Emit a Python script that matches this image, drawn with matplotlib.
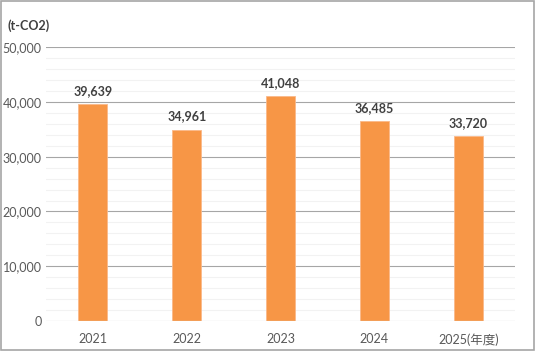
import matplotlib
matplotlib.use("Agg")
from matplotlib import pyplot as plt
from matplotlib.patches import Rectangle
import numpy as np

years = ["2021", "2022", "2023", "2024", "2025(年度)"]
emissions = [39639, 34961, 41048, 36485, 33720]
yticks = [0, 10000, 20000, 30000, 40000, 50000]

plt.rcParams["font.family"] = ["Lato", "Noto Sans CJK JP", "DejaVu Sans"]

fig = plt.figure(figsize=(5.35, 3.51), dpi=100)
ax = fig.add_axes([0.086, 0.0855, 0.877, 0.78])

x = np.arange(len(years))
ax.bar(x, emissions, width=0.31, color="#F79646", edgecolor="#FAB98A",
       linewidth=0.6, zorder=3)

for xi, v in zip(x, emissions):
    ax.text(xi, v + 1300, f"{v:,}", ha="center", va="bottom",
            fontsize=9, fontweight="bold", color="#404040")

ax.set_xlim(-0.5, len(years) - 0.5)
ax.set_ylim(0, 50000)
ax.set_yticks(yticks)
ax.set_yticklabels([f"{t:,}" for t in yticks])
ax.set_xticks(x)
ax.set_xticklabels(years)
ax.tick_params(length=0, labelsize=9, labelcolor="#595959")
ax.tick_params(axis="y", pad=3)
ax.tick_params(axis="x", pad=9)

# minor gridlines every 2,000, major every 10,000
for yv in np.arange(2000, 50000, 2000):
    if yv % 10000:
        ax.axhline(yv, color="#F2F2F2", linewidth=0.8, zorder=1)
for yv in yticks[1:]:
    ax.axhline(yv, color="#A6A6A6", linewidth=0.8, zorder=2)
ax.axhline(0, color="#D9D9D9", linewidth=0.9, zorder=4)

for s in ax.spines.values():
    s.set_visible(False)

fig.text(8 / 535, 1 - 26 / 351, "(t-CO2)", fontsize=9, fontweight="bold",
         color="#404040", va="center", ha="left")

fig.patches.append(Rectangle((0.001, 0.002), 0.997, 0.995,
                             transform=fig.transFigure, fill=False,
                             edgecolor="#A6A6A6", linewidth=1.2))

fig.savefig("out.png", dpi=100)
